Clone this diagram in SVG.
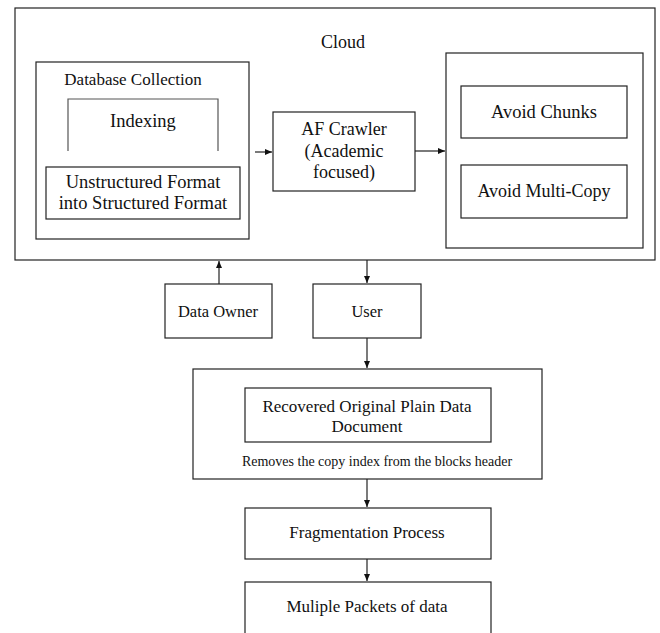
<svg xmlns="http://www.w3.org/2000/svg" width="660" height="633" viewBox="0 0 660 633">
<style>
.b{fill:#fff;stroke:#222;stroke-width:1.2}
.g{fill:none;stroke:#555;stroke-width:1.2}
.c{stroke:#222;stroke-width:1.2;fill:none}
text{fill:#111;text-anchor:middle}
</style>
<defs>
<marker id="ah" markerWidth="8" markerHeight="8" refX="7" refY="4" orient="auto" markerUnits="userSpaceOnUse">
<path d="M0,1 L7,4 L0,7 Z" fill="#111"/>
</marker>
</defs>
<rect width="660" height="633" fill="#fff"/>
<g font-family="'Liberation Serif', 'DejaVu Serif', serif">
<g id="cloud">
<rect class="b" x="15" y="8" width="640" height="252"/>
<text x="343" y="48" font-size="18">Cloud</text>
</g>
<g id="database-collection">
<rect class="b" x="36" y="62" width="213" height="177"/>
<text x="133" y="85" font-size="17">Database Collection</text>
</g>
<g id="indexing">
<path class="g" d="M68,151 V99 H218 V151"/>
<text x="143" y="127" font-size="18.5">Indexing</text>
</g>
<g id="unstructured">
<rect class="b" x="46" y="167" width="194" height="52"/>
<text x="143" y="188" font-size="18.5">Unstructured Format</text>
<text x="143" y="209" font-size="18.5">into Structured Format</text>
</g>
<g id="af-crawler">
<rect class="b" x="273" y="112" width="142" height="79"/>
<text x="344" y="135" font-size="18">AF Crawler</text>
<text x="344" y="157" font-size="18">(Academic</text>
<text x="344" y="178" font-size="18">focused)</text>
</g>
<g id="avoid-group">
<rect class="b" x="446" y="53" width="197" height="195"/>
</g>
<g id="avoid-chunks">
<rect class="b" x="461" y="86" width="166" height="52"/>
<text x="544" y="118" font-size="18.5">Avoid Chunks</text>
</g>
<g id="avoid-multicopy">
<rect class="b" x="461" y="165" width="166" height="53"/>
<text x="544" y="197" font-size="18">Avoid Multi-Copy</text>
</g>
<g id="data-owner">
<rect class="b" x="165" y="284" width="107" height="54"/>
<text x="218" y="317" font-size="16.5">Data Owner</text>
</g>
<g id="user">
<rect class="b" x="313" y="284" width="108" height="54"/>
<text x="367" y="317" font-size="16.5">User</text>
</g>
<g id="recovery">
<rect class="b" x="193" y="369" width="349" height="110"/>
<text x="377" y="466" font-size="14">Removes the copy index from the blocks header</text>
</g>
<g id="recovered-doc">
<rect class="b" x="245" y="388" width="246" height="54"/>
<text x="367" y="412" font-size="17">Recovered Original Plain Data</text>
<text x="367" y="432" font-size="17">Document</text>
</g>
<g id="fragmentation">
<rect class="b" x="245" y="508" width="246" height="51" stroke="#444"/>
<text x="367" y="538" font-size="17">Fragmentation Process</text>
</g>
<g id="packets">
<rect class="b" x="245" y="582" width="246" height="60"/>
<text x="367" y="612" font-size="17">Muliple Packets of data</text>
</g>
</g>
<g id="connectors">
<line class="c" x1="255" y1="152" x2="272" y2="152" marker-end="url(#ah)"/>
<line class="c" x1="415" y1="151" x2="445" y2="151" marker-end="url(#ah)"/>
<line class="c" x1="219" y1="284" x2="219" y2="261" marker-end="url(#ah)"/>
<line class="c" x1="367" y1="260" x2="367" y2="283" marker-end="url(#ah)"/>
<line class="c" x1="367" y1="338" x2="367" y2="368" marker-end="url(#ah)"/>
<line class="c" x1="367" y1="479" x2="367" y2="507" marker-end="url(#ah)"/>
<line class="c" x1="367" y1="559" x2="367" y2="581" marker-end="url(#ah)"/>
</g>
</svg>
